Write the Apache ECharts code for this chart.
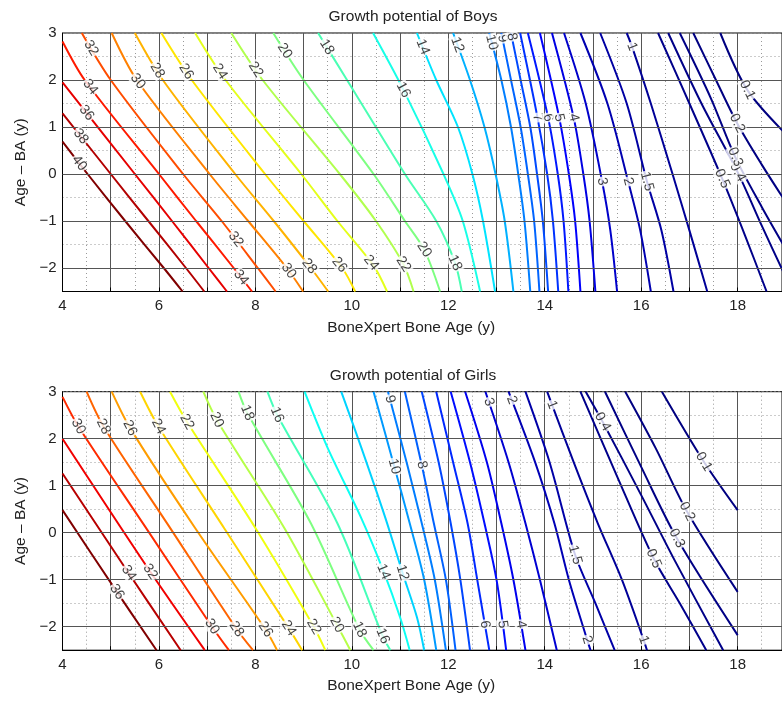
<!DOCTYPE html>
<html><head><meta charset="utf-8">
<script src="https://cdn.jsdelivr.net/npm/echarts@6/dist/echarts.min.js"></script>
<style>html,body{margin:0;padding:0;background:#fff}#c{width:782px;height:702px}</style>
</head><body><div id="c"></div>
<script>
// ---------- data ----------
const xTicks = [4, 6, 8, 10, 12, 14, 16, 18];
const yTicks = [-2, -1, 0, 1, 2, 3];

const boysLevels = [40, 38, 36, 34, 32, 30, 28, 26, 24, 22, 20, 18, 16, 14, 12, 10, 9, 8, 7, 6, 5, 4, 3, 2, 1.5, 1, 0.5, 0.4, 0.3, 0.2, 0.1];
const boysPaths = [
  [[4,0.69],[4.52,0],[5.3,-1],[6.1,-2],[6.49,-2.5]],
  [[4,1.29],[5.0,0],[5.78,-1],[6.56,-2],[6.94,-2.5]],
  [[4,1.95],[5.5,0],[6.27,-1],[7.03,-2],[7.41,-2.5]],
  [[4,2.82],[4.46,2],[6.0,0],[6.77,-1],[7.55,-2],[7.93,-2.5]],
  [[4.4,3],[5.0,2],[6.5,0],[7.3,-1],[8.05,-2],[8.42,-2.5]],
  [[5.02,3],[5.54,2],[7.05,0],[7.85,-1],[8.65,-2],[8.99,-2.5]],
  [[5.5,3],[6.08,2],[7.58,0],[8.38,-1],[9.15,-2],[9.51,-2.5]],
  [[6.05,3],[6.68,2],[8.2,0],[9.0,-1],[9.8,-2],[10.07,-2.5]],
  [[6.75,3],[7.38,2],[8.95,0],[9.7,-1],[10.45,-1.95],[10.73,-2.5]],
  [[7.5,3],[8.15,2],[9.75,0],[10.5,-1],[11.07,-1.92],[11.28,-2.5]],
  [[8.37,3],[9.0,2],[10.45,0],[11.1,-1],[11.5,-1.61],[11.83,-2.5]],
  [[9.3,3],[9.9,2],[11.1,0],[11.75,-1],[12.14,-1.89],[12.28,-2.5]],
  [[10.44,3],[11.07,1.79],[11.9,0],[12.3,-1],[12.66,-2.5]],
  [[11.35,3],[11.75,2],[12.2,1],[12.5,0],[12.72,-1],[12.97,-2.5]],
  [[12.1,3],[12.45,2],[12.75,1],[12.98,0],[13.17,-1],[13.35,-2.5]],
  [[12.85,3],[13.1,2],[13.3,1],[13.45,0],[13.58,-1],[13.7,-2.5]],
  [[13.1,3],[13.3,2],[13.5,1],[13.65,0],[13.78,-1],[13.89,-2.5]],
  [[13.3,3],[13.5,2],[13.7,1],[13.84,0],[13.96,-1],[14.07,-2.5]],
  [[13.49,3],[13.85,1.2],[14.05,0],[14.17,-1],[14.28,-2.5]],
  [[13.65,3],[14.07,1.2],[14.27,0],[14.39,-1],[14.49,-2.5]],
  [[13.9,3],[14.3,1.2],[14.5,0],[14.63,-1],[14.74,-2.5]],
  [[14.15,3],[14.6,1.2],[14.8,0],[14.93,-1],[15.05,-2.5]],
  [[14.4,3],[14.85,1.5],[15.19,-0.16],[15.36,-1.2],[15.5,-2.5]],
  [[14.74,3],[15.3,1.5],[15.73,-0.16],[15.98,-1.2],[16.2,-2.5]],
  [[15.15,3],[15.7,1.5],[16.12,-0.16],[16.42,-1.2],[16.67,-2.5]],
  [[15.7,3],[15.81,2.71],[16.2,1.5],[16.65,0],[17.0,-1.2],[17.37,-2.5]],
  [[16.35,3],[17.0,1.5],[17.68,-0.1],[18.15,-1.3],[18.6,-2.5]],
  [[16.56,3],[17.25,1.5],[18.0,0.04],[18.5,-1.1],[19.0,-2.2]],
  [[16.8,3],[17.45,1.6],[17.95,0.36],[18.5,-0.7],[19.0,-1.6]],
  [[17.08,3],[17.55,2],[17.99,1.08],[18.5,0.2],[19.0,-0.6]],
  [[17.64,3],[18.2,1.79],[19.0,0.85]]
];
const boysLabels = [
  [32,2.68],[34,1.85],[36,1.3],[38,0.8],[40,0.23],[30,1.97],[28,2.2],[26,2.18],[24,2.18],[22,2.22],
  [20,2.62],[18,2.7],[16,1.79],[14,2.7],[12,2.75],[10,2.8],[9,2.88],[8,2.92],
  [32,-1.39],[34,-2.2],[30,-2.06],[28,-1.96],[26,-1.93],[24,-1.89],[22,-1.92],[20,-1.61],[18,-1.89],
  [7,1.2],[6,1.2],[5,1.2],[4,1.2],[3,-0.16],[2,-0.16],[1.5,-0.16],[1,2.71],
  [0.5,-0.1],[0.4,0.04],[0.3,0.36],[0.2,1.08],[0.1,1.79]
];

const girlsLevels = [36, 34, 32, 30, 28, 26, 24, 22, 20, 18, 16, 14, 12, 10, 9, 8, 7, 6, 5, 4, 3, 2, 1.5, 1, 0.5, 0.4, 0.3, 0.2, 0.1];
const girlsPaths = [
  [[4,0.48],[5.09,-1.2],[5.95,-2.5]],
  [[4,1.26],[5.3,-0.75],[6.45,-2.5]],
  [[4,2.0],[5.8,-0.8],[6.95,-2.5]],
  [[4,2.89],[4.33,2.26],[5.7,0.15],[7.1,-2.0],[7.45,-2.5]],
  [[4.5,3],[4.85,2.26],[6.2,0.15],[7.61,-2.05],[7.95,-2.5]],
  [[5.02,3],[5.4,2.23],[6.75,0.1],[8.21,-2.06],[8.45,-2.5]],
  [[5.61,3],[5.99,2.26],[7.35,0.1],[8.69,-2.03],[8.97,-2.5]],
  [[6.23,3],[6.58,2.36],[8.0,0.1],[9.21,-2.0],[9.45,-2.5]],
  [[6.92,3],[7.2,2.4],[8.6,0.1],[9.69,-1.96],[9.97,-2.5]],
  [[7.65,3],[7.83,2.55],[9.15,0.2],[10.16,-2.06],[10.45,-2.5]],
  [[8.25,3],[8.45,2.51],[9.7,0.2],[10.64,-2.2],[10.8,-2.5]],
  [[9.02,3],[9.5,1.8],[10.2,0.3],[10.66,-0.83],[11.0,-1.8],[11.2,-2.5]],
  [[9.78,3],[10.2,1.8],[10.7,0.3],[11.05,-0.85],[11.35,-1.8],[11.5,-2.5]],
  [[10.45,3],[10.88,1.41],[11.2,0.2],[11.5,-1],[11.75,-2.5]],
  [[10.75,3],[11.15,1.44],[11.45,0.2],[11.72,-1],[11.95,-2.5]],
  [[11.1,3],[11.45,1.44],[11.7,0.2],[11.95,-1],[12.15,-2.5]],
  [[11.45,3],[11.8,1.5],[12.05,0.2],[12.25,-1],[12.45,-2.5]],
  [[11.75,3],[12.1,1.5],[12.4,0.2],[12.6,-1],[12.85,-2.5]],
  [[12.05,3],[12.45,1.5],[12.75,0.2],[13.0,-1],[13.2,-2.5]],
  [[12.35,3],[12.8,1.5],[13.1,0.2],[13.35,-1],[13.6,-2.5]],
  [[12.77,3],[13.25,1.5],[13.6,0.2],[13.9,-1],[14.25,-2.5]],
  [[13.25,3],[13.8,1.5],[14.2,0.2],[14.5,-1],[14.88,-2.28],[14.95,-2.5]],
  [[13.6,3],[14.1,1.5],[14.63,-0.47],[15.05,-1.5],[15.45,-2.5]],
  [[14.05,3],[14.6,1.5],[15.1,0.2],[15.6,-1],[16.05,-2.28],[16.12,-2.5]],
  [[14.74,3],[15.5,1.2],[16.26,-0.55],[16.8,-1.5],[17.35,-2.5]],
  [[14.85,3],[15.2,2.36],[16.0,0.8],[16.7,-0.6],[17.7,-2.5]],
  [[15.25,3],[16.0,1.4],[16.74,-0.12],[18.0,-2.18]],
  [[15.67,3],[16.3,1.8],[16.95,0.45],[18.0,-1.26]],
  [[16.43,3],[17.3,1.51],[18.0,0.48]]
];
const girlsLabels = [
  [30,2.26],[28,2.26],[26,2.23],[24,2.26],[22,2.36],[20,2.4],[18,2.55],[16,2.51],
  [9,2.84],[10,1.41],[8,1.44],[3,2.78],[2,2.82],[1,2.72],[0.4,2.36],[0.1,1.51],[0.2,0.45],
  [0.3,-0.12],[0.5,-0.55],[1.5,-0.47],[14,-0.83],[12,-0.85],[36,-1.26],[34,-0.86],[32,-0.83],
  [30,-2.0],[28,-2.05],[26,-2.06],[24,-2.03],[22,-2.0],[20,-1.96],[18,-2.06],[16,-2.2],
  [6,-1.95],[5,-1.95],[4,-1.95],[2,-2.28],[1,-2.28]
];

// ---------- helpers ----------
const FONT = '"Liberation Sans", Arial, Helvetica, sans-serif';
const PX_X = 48.2, PX_Y = 47;
function jet(t) {
  const c = v => Math.max(0, Math.min(1, v));
  const r = c(1.5 - Math.abs(4 * t - 3)), g = c(1.5 - Math.abs(4 * t - 2)), b = c(1.5 - Math.abs(4 * t - 1));
  return 'rgb(' + Math.round(r * 255) + ',' + Math.round(g * 255) + ',' + Math.round(b * 255) + ')';
}
function pointAt(path, y) {
  for (let i = 0; i < path.length - 1; i++) {
    const [x1, y1] = path[i], [x2, y2] = path[i + 1];
    if ((y - y1) * (y - y2) <= 0 && y1 !== y2) {
      const f = (y - y1) / (y2 - y1);
      return { x: x1 + f * (x2 - x1), ang: Math.atan2((y2 - y1) * PX_Y, (x2 - x1) * PX_X) * 180 / Math.PI };
    }
  }
  return null;
}
const fmtNum = v => (v < 0 ? '\u2212' + (-v) : String(v));

const grids = [], xAxes = [], yAxes = [], series = [];
const plots = [
  { title: 'Growth potential of Boys', top: 33, levels: boysLevels, paths: boysPaths, labels: boysLabels },
  { title: 'Growth potential of Girls', top: 391.7, levels: girlsLevels, paths: girlsPaths, labels: girlsLabels }
];
const titles = [];
plots.forEach((p, gi) => {
  grids.push({ left: 62.5, top: p.top, width: 720, height: 258.5, show: true, borderColor: '#000', borderWidth: 1, backgroundColor: '#fff' });
  titles.push({ text: p.title, left: 408, top: p.top - 29, textAlign: 'center',
    textStyle: { fontSize: 15.5, fontWeight: 'normal', color: '#222', fontFamily: FONT } });
  xAxes.push({
    gridIndex: gi, type: 'value', min: 4, max: 18.92, interval: 1,
    name: 'BoneXpert Bone Age (y)', nameLocation: 'middle', nameGap: 28,
    nameTextStyle: { fontSize: 15.5, color: '#222', fontFamily: FONT, padding: [0, 22, 0, 0] },
    axisLine: { show: true, onZero: false, lineStyle: { color: '#000' } },
    axisTick: { show: true, inside: true, length: 4, lineStyle: { color: '#000' } },
    axisLabel: { formatter: v => (xTicks.includes(v) ? String(v) : ''), margin: 7, fontSize: 15, color: '#222', fontFamily: FONT, showMaxLabel: false },
    splitLine: { show: true, lineStyle: { color: '#555', width: 1 } },
    minorTick: { show: false, splitNumber: 2 },
    minorSplitLine: { show: true, lineStyle: { color: '#999', width: 1, type: [1, 3] } }
  });
  yAxes.push({
    gridIndex: gi, type: 'value', min: -2.5, max: 3, interval: 0.5,
    name: 'Age \u2013 BA (y)', nameLocation: 'middle', nameGap: 32, nameRotate: 90,
    nameTextStyle: { fontSize: 15.5, color: '#222', fontFamily: FONT },
    axisLine: { show: true, onZero: false, lineStyle: { color: '#000' } },
    axisTick: { show: false },
    axisLabel: { formatter: v => (yTicks.includes(v) ? fmtNum(v) : ''), margin: 6, fontSize: 15, color: '#222', fontFamily: FONT },
    splitLine: { show: true, lineStyle: { color: '#999', width: 1, type: [1, 3] } }
  });
  series.push({
    type: 'line', xAxisIndex: gi, yAxisIndex: gi, data: [], silent: true, z: 1, animation: false,
    markLine: { silent: true, symbol: ['none', 'none'], label: { show: false }, animation: false,
      lineStyle: { color: '#555', width: 1, type: 'solid' },
      data: yTicks.filter(v => v < 3).map(v => ({ yAxis: v })) }
  });
  const lo = Math.min(...p.levels), hi = Math.max(...p.levels);
  p.levels.forEach((lv, i) => {
    series.push({
      type: 'line', xAxisIndex: gi, yAxisIndex: gi, data: p.paths[i], showSymbol: false, symbol: 'none',
      smooth: 0.3, clip: true, silent: true, animation: false, z: 2,
      lineStyle: { color: jet((lv - lo) / (hi - lo)), width: 2 }
    });
  });
  const lab = [];
  p.labels.forEach(([lv, y]) => {
    const idx = p.levels.indexOf(lv);
    if (idx < 0) return;
    const pt = pointAt(p.paths[idx], y);
    if (!pt) return;
    let a = pt.ang;
    if (a < -90) a += 180; if (a > 90) a -= 180;
    lab.push({ value: [pt.x, y], label: { formatter: String(lv), rotate: a } });
  });
  series.push({
    type: 'scatter', xAxisIndex: gi, yAxisIndex: gi, data: lab, symbolSize: 2, silent: true, animation: false, z: 5,
    itemStyle: { color: 'rgba(0,0,0,0)' },
    label: { show: true, position: 'inside', fontSize: 14, color: '#111', fontFamily: FONT,
      backgroundColor: '#fff', padding: [0, 1], lineHeight: 13 },
    labelLayout: { hideOverlap: false }
  });
});

const chart = echarts.init(document.getElementById('c'), null, { renderer: 'canvas' });
chart.setOption({ animation: false, backgroundColor: '#fff', title: titles, grid: grids, xAxis: xAxes, yAxis: yAxes, series });
</script></body></html>
